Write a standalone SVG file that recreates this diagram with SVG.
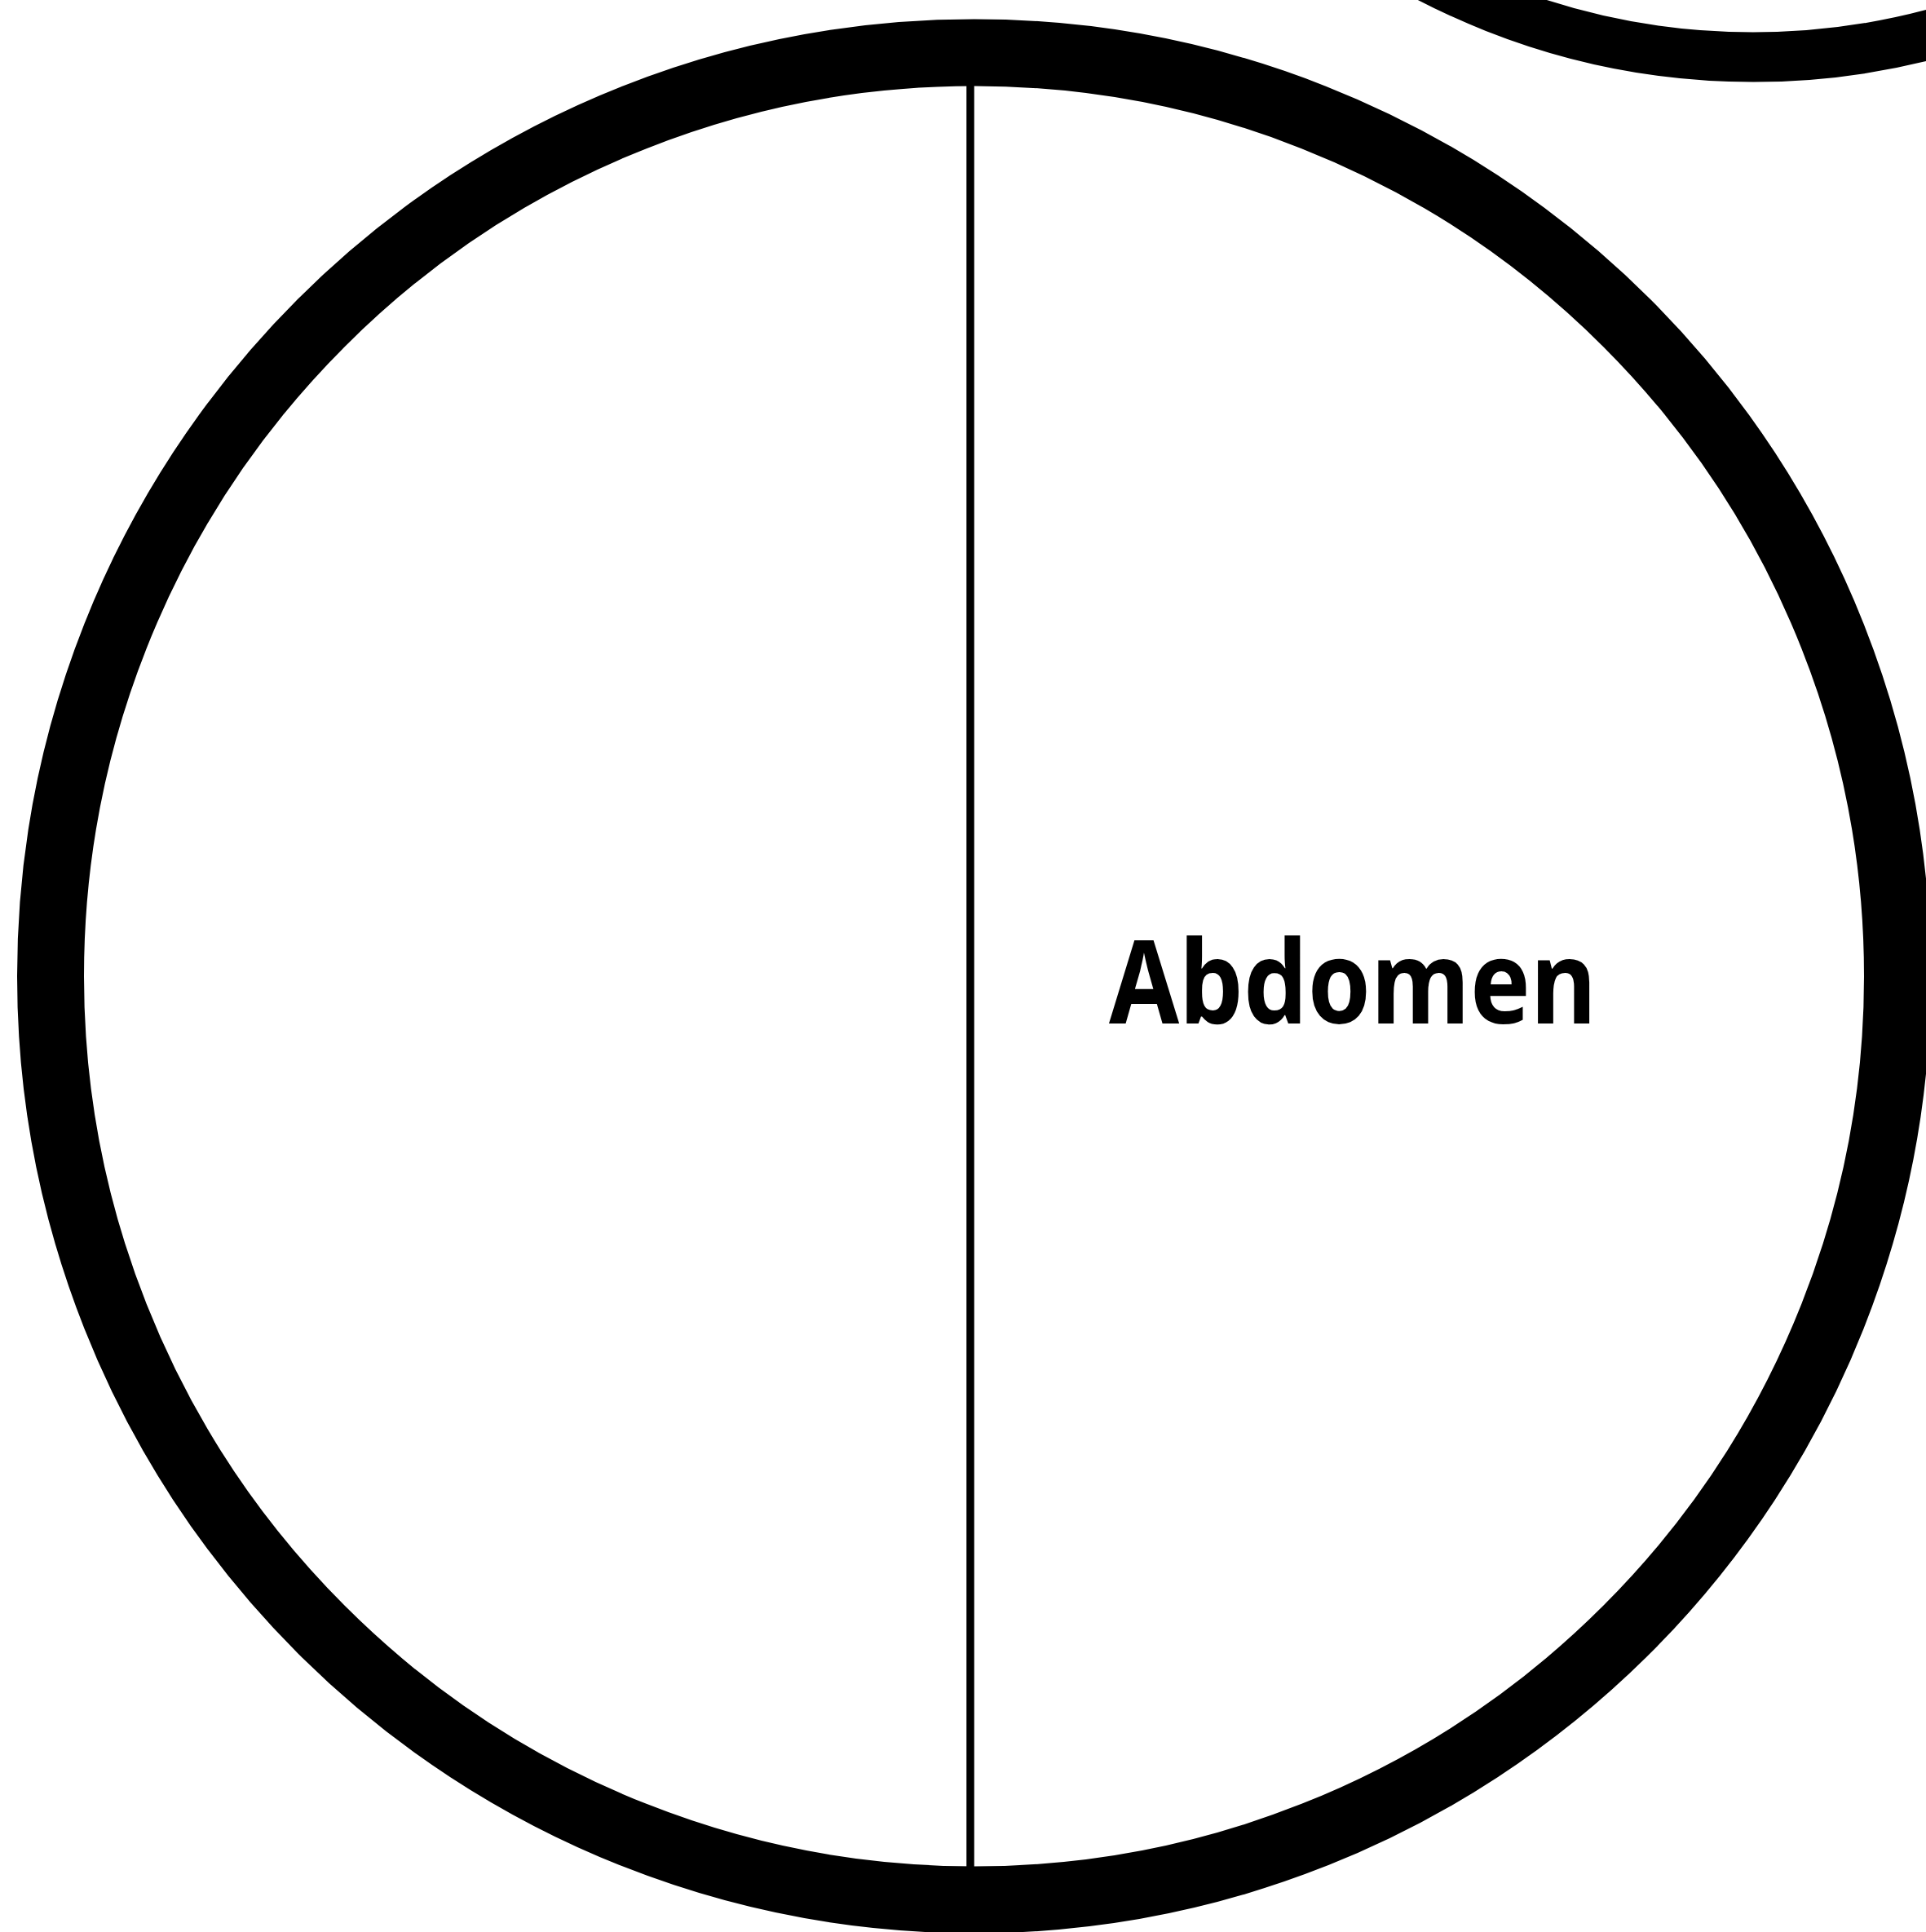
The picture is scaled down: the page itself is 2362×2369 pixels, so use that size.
<svg xmlns="http://www.w3.org/2000/svg" width="2362" height="2369" viewBox="0 0 2362 2369">
<style>
.ring{fill:none;stroke:#000}
.label{font-family:"Noto Sans","DejaVu Sans",sans-serif;font-weight:700;fill:#000}
</style>
<rect width="2362" height="2369" fill="#fff"/>
<g id="abdomen">
<line x1="1190" y1="60" x2="1190" y2="2330" stroke="#000" stroke-width="9.5"/>
<circle class="ring" cx="1194.5" cy="1197" r="1132.5" stroke-width="82"/>
<text class="label" x="1360" y="1255" font-size="141" textLength="598" lengthAdjust="spacingAndGlyphs">Abdomen</text>
</g>
<g id="thorax">
<circle class="ring" cx="2150" cy="-790" r="860" stroke-width="61"/>
</g>
<g id="connectors"></g>
</svg>
